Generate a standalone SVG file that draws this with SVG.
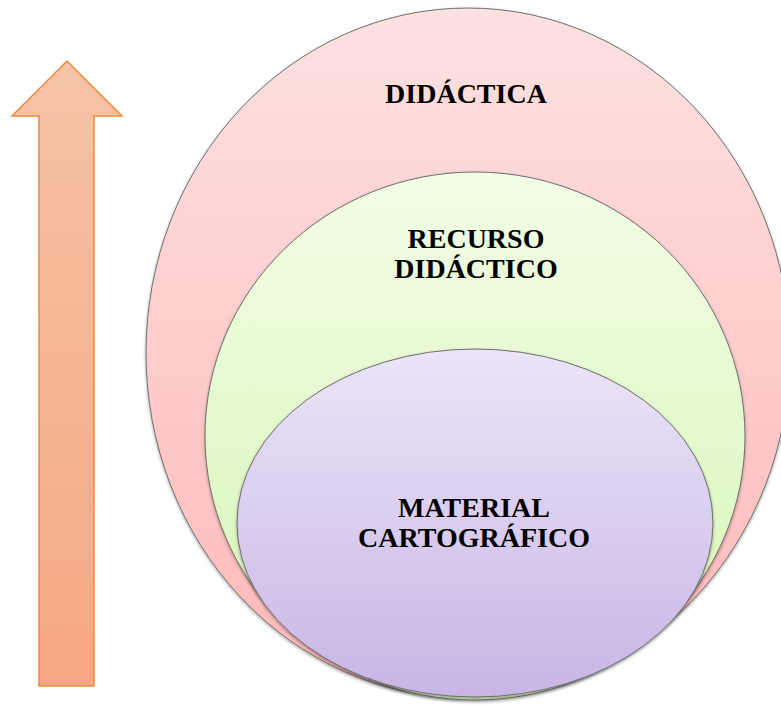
<svg xmlns="http://www.w3.org/2000/svg" width="781" height="706" viewBox="0 0 781 706">
  <defs>
    <linearGradient id="gArrow" x1="0" y1="0" x2="0" y2="1">
      <stop offset="0" stop-color="#f6c3a7"/>
      <stop offset="1" stop-color="#f6a781"/>
    </linearGradient>
    <linearGradient id="gPink" x1="0" y1="0" x2="0" y2="1">
      <stop offset="0" stop-color="#fde1e1"/>
      <stop offset="1" stop-color="#ffb8b8"/>
    </linearGradient>
    <linearGradient id="gGreen" x1="0" y1="0" x2="0" y2="1">
      <stop offset="0" stop-color="#f2fde6"/>
      <stop offset="1" stop-color="#d6f5b4"/>
    </linearGradient>
    <linearGradient id="gPurple" x1="0" y1="0" x2="0" y2="1">
      <stop offset="0" stop-color="#ebe5f7"/>
      <stop offset="1" stop-color="#c8b5e5"/>
    </linearGradient>
    <filter id="shadow" x="-5%" y="-5%" width="110%" height="110%">
      <feDropShadow dx="0" dy="1.5" stdDeviation="1.5" flood-color="#000" flood-opacity="0.35"/>
    </filter>
  </defs>
  <style>
    .ell { stroke: #6e6e6e; stroke-width: 1; filter: url(#shadow); }
    .lbl { font-family: "Liberation Serif", "Times New Roman", serif; font-weight: bold; font-size: 28px; fill: #000; text-anchor: middle; }
  </style>
  <g id="arrow">
    <polygon points="67,61 122,116 94,116 94,686 39,686 39,116 12,116" fill="url(#gArrow)" stroke="#f08a3e" stroke-width="1.5" stroke-linejoin="miter"/>
  </g>
  <g id="didactica">
    <ellipse class="ell" cx="468" cy="353" rx="322" ry="345" fill="url(#gPink)"/>
    <text class="lbl" x="466" y="103">DIDÁCTICA</text>
  </g>
  <g id="recurso">
    <ellipse class="ell" cx="475" cy="436" rx="270" ry="264" fill="url(#gGreen)"/>
    <text class="lbl" x="476" y="248">RECURSO</text>
    <text class="lbl" x="476" y="278">DIDÁCTICO</text>
  </g>
  <g id="material">
    <ellipse class="ell" cx="475" cy="523" rx="238" ry="174" fill="url(#gPurple)"/>
    <text class="lbl" x="474" y="517">MATERIAL</text>
    <text class="lbl" x="474" y="547">CARTOGRÁFICO</text>
  </g>
  <g id="connectors"/>
</svg>
